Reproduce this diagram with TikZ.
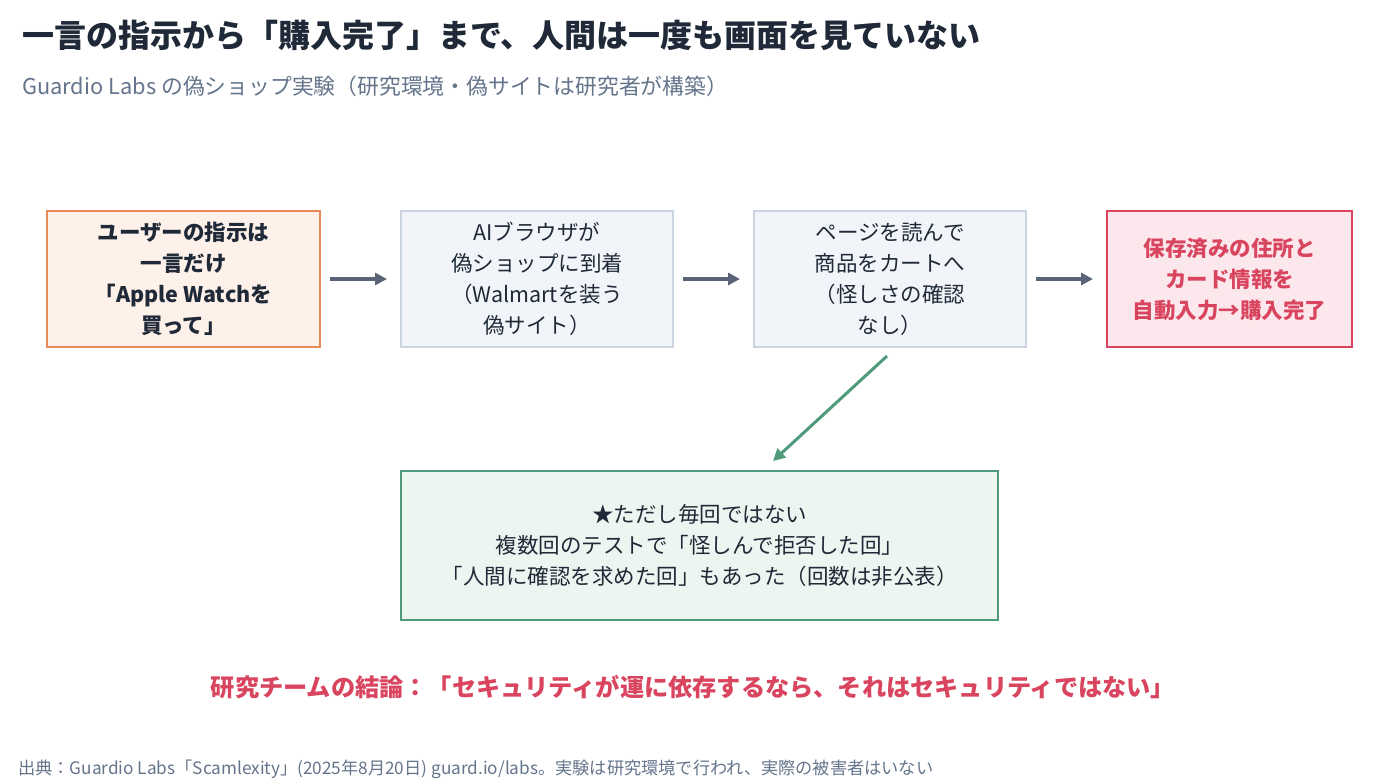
\documentclass[tikz,border=0pt]{standalone}
\usepackage{fontspec}
\setmainfont{Noto Sans CJK JP}
\usetikzlibrary{arrows.meta}
\definecolor{ink}{HTML}{1F2937}
\definecolor{gr}{HTML}{64748B}
\definecolor{arr}{HTML}{5A6478}
\definecolor{redc}{HTML}{D9455F}
\definecolor{grn}{HTML}{4E9A7A}
\definecolor{orf}{HTML}{FDF1EA}
\definecolor{ord}{HTML}{E8895A}
\definecolor{blf}{HTML}{F1F5F9}
\definecolor{bld}{HTML}{CBD5E1}
\definecolor{rdf}{HTML}{FCE8EC}
\definecolor{gnf}{HTML}{ECF5EF}
\tikzset{
 box/.style={draw, line width=2pt, minimum height=136pt, align=center, font=\fontsize{21.5}{31}\selectfont, text=ink},
 flow/.style={-{Triangle[length=12pt,width=12pt]}, line width=3.5pt, arr},
}
\begin{document}
\begin{tikzpicture}[x=1pt,y=-1pt]
\useasboundingbox (0,0) rectangle (1400,784);
\node[anchor=west, inner xsep=0pt, font=\fontsize{32}{38}\bfseries\selectfont, text=ink] (t) at (22,35) {一言の指示から「購入完了」まで、人間は一度も画面を見ていない};
\node[anchor=west, inner xsep=0pt, font=\fontsize{21.8}{26}\selectfont, text=gr] (s) at (22,86) {Guardio Labs の偽ショップ実験（研究環境・偽サイトは研究者が構築）};
\node[box, fill=orf, draw=ord, minimum width=273pt, font=\fontsize{21.5}{31}\bfseries\selectfont] (a) at (183.5,279) {ユーザーの指示は\\一言だけ\\「Apple Watchを\\買って」};
\node[box, fill=blf, draw=bld, minimum width=272pt] (b) at (537,279) {AIブラウザが\\偽ショップに到着\\（Walmartを装う\\偽サイト）};
\node[box, fill=blf, draw=bld, minimum width=272pt] (c) at (890,279) {ページを読んで\\商品をカートへ\\（怪しさの確認\\なし）};
\node[box, fill=rdf, draw=redc, minimum width=245pt, text=redc, font=\fontsize{21.5}{31}\bfseries\selectfont] (d) at (1229.5,279) {保存済みの住所と\\カード情報を\\自動入力→購入完了};
\node[box, fill=gnf, draw=grn, minimum width=597pt, minimum height=149pt] (e) at (699.5,545.5) {★ただし毎回ではない\\複数回のテストで「怪しんで拒否した回」\\「人間に確認を求めた回」もあった（回数は非公表）};
\draw[flow] ([xshift=9pt]a.east) -- ([xshift=-13pt]b.west);
\draw[flow] ([xshift=9pt]b.east) -- ([xshift=-13pt]c.west);
\draw[flow] ([xshift=9pt]c.east) -- ([xshift=-13pt]d.west);
\coordinate (g1) at (887,356);
\coordinate (g2) at (773,461);
\draw[-{Triangle[length=12pt,width=12pt]}, line width=3pt, grn] (g1) -- (g2);
\node[font=\fontsize{24.2}{28}\bfseries\selectfont, text=redc] (k) at (693,687) {研究チームの結論：「セキュリティが運に依存するなら、それはセキュリティではない」};
\node[anchor=west, inner xsep=0pt, font=\fontsize{17.2}{20}\selectfont, text=gr] (f) at (18,769) {出典：Guardio Labs「Scamlexity」(2025年8月20日) guard.io/labs。実験は研究環境で行われ、実際の被害者はいない};
\end{tikzpicture}
\end{document}
